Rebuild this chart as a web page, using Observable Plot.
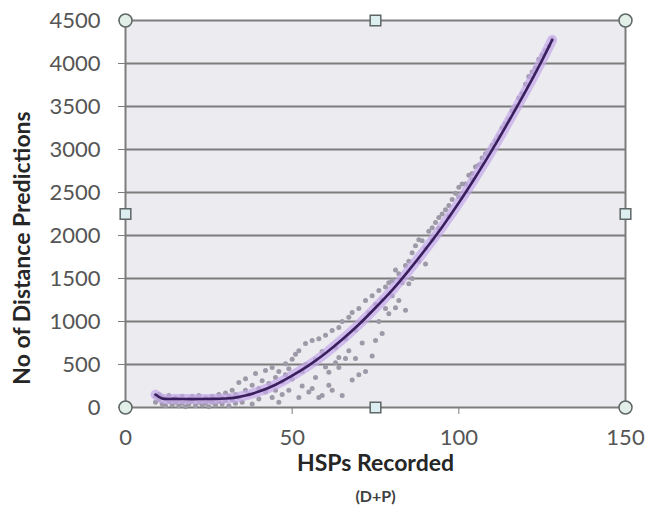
<!DOCTYPE html>
<html><head><meta charset="utf-8">
<script src="https://cdn.jsdelivr.net/npm/d3@7"></script>
<script src="https://cdn.jsdelivr.net/npm/@observablehq/plot@0.6"></script>
<style>body{margin:0;background:#fff;}</style>
</head><body><div id="chart"></div>
<script>
const xTicks = [0, 50, 100, 150];
const yTicks = [0, 500, 1000, 1500, 2000, 2500, 3000, 3500, 4000, 4500];
const xTitle = ["HSPs Recorded"];
const xSubTitle = ["(D+P)"];
const yTitle = ["No of Distance Predictions"];

// scatter: HSPs recorded vs no. of distance predictions
const hspX = [9,9,10,10,11,11,12,12,13,13,14,14,15,15,16,16,17,17,18,18,19,19,20,20,21,21,22,22,23,23,24,24,25,25,26,26,27,27,28,28,29,29,30,30,31,31,32,32,33,33,
34,34,35,36,36,37,38,38,39,40,40,41,42,42,43,44,44,45,45,46,46,47,47,48,48,49,49,50,50,
51,52,52,53,53,54,54,55,56,56,57,57,58,58,59,59,60,60,61,61,62,62,63,63,64,64,64,65,65,66,66,67,67,68,68,69,69,70,70,71,71,72,72,73,74,74,75,75,76,76,77,77,78,78,79,79,80,80,81,81,82,82,83,84,84,85,85,
86,86,87,88,88,89,90,90,91,92,92,93,94,94,95,96,97,97,98,99,100,100,101,102,103,104,104,105,106,107,107,108,109,110,111,112,113,114,115,116,117,118,119,120,121,122,123,124,125,126,127,128];
const predY = [130,60,150,90,40,120,100,20,70,140,90,30,110,60,20,90,130,50,80,10,100,40,70,130,20,100,60,140,90,30,110,50,80,10,130,60,100,30,150,70,40,110,170,80,130,20,200,90,150,50,
290,120,60,335,200,150,260,40,395,220,100,310,430,180,280,465,115,350,200,420,60,300,150,510,380,200,450,330,560,
620,660,115,420,250,745,500,180,780,220,560,350,800,115,140,650,840,470,410,260,895,200,700,520,930,465,580,140,1000,570,800,1050,660,320,1105,570,900,1150,380,750,1000,1245,420,1100,1300,600,780,1200,1360,1000,860,1250,1400,1150,1090,1450,1475,1300,1160,1600,1555,1245,1450,1650,1130,1700,1440,
1800,1500,1880,1700,1950,1940,1850,1670,2050,2090,1950,2150,2210,2080,2250,2300,2350,2220,2420,2490,2450,2560,2600,2600,2700,2720,2650,2800,2820,2830,2900,2950,2990,3050,3100,3150,3250,3300,3350,3450,3500,3600,3650,3760,3850,3900,3950,4050,4100,4150,4200,4280];

// trend line
const trendX = [9, 11, 14, 18, 22, 26, 30, 33, 36, 40, 45, 50, 55, 60, 65, 70, 75, 80, 85, 90, 95, 100, 105, 110, 115, 120, 125, 128];
const trendY = [150, 105, 100, 98, 98, 100, 105, 115, 140, 185, 265, 370, 490, 630, 790, 965, 1160, 1365, 1595, 1840, 2100, 2380, 2680, 2995, 3330, 3675, 4040, 4275];

// selection handles of the chart area
const handleX = [0, 150, 0, 150, 75, 0, 150, 75];
const handleY = [4500, 4500, 0, 0, 4500, 2250, 2250, 0];
const handleShape = ["circle","circle","circle","circle","square","square","square","square"];

const points = hspX.map((x, i) => ({x, y: predY[i]}));
const trend = trendX.map((x, i) => ({x, y: trendY[i]}));
const handles = handleX.map((x, i) => ({x, y: handleY[i], s: handleShape[i]}));

const grey = "#7c7c7c";
const chart = Plot.plot({
  width: 645, height: 511,
  marginLeft: 125, marginRight: 20, marginTop: 20, marginBottom: 104,
  style: {fontFamily: "Lato, 'Open Sans', sans-serif", background: "#fff"},
  x: {domain: [0, 150]},
  y: {domain: [0, 4500]},
  marks: [
    Plot.frame({fill: "#ECEBF0", stroke: "none"}),
    Plot.gridY(yTicks, {stroke: grey, strokeOpacity: 1, strokeWidth: 2}),
    Plot.ruleX([0, 150], {stroke: grey, strokeWidth: 2}),
    Plot.axisY(yTicks, {tickSize: 7, tickPadding: 18, fontSize: 22, tickFormat: d3.format("d"), stroke: grey, fill: "#555555", label: null}),
    Plot.axisX(xTicks, {tickSize: 7, tickPadding: 15, fontSize: 22, tickFormat: d3.format("d"), stroke: grey, fill: "#555555", label: null}),
    Plot.dot(points, {x: "x", y: "y", r: 2.5, fill: "#9d99a6", stroke: "none"}),
    Plot.line(trend, {x: "x", y: "y", curve: "natural", stroke: "#c3a8ea", strokeWidth: 10, strokeOpacity: 0.7}),
    Plot.line(trend, {x: "x", y: "y", curve: "natural", stroke: "#3a1f5f", strokeWidth: 2.6}),
    Plot.dot(handles.filter(d => d.s === "circle"), {x: "x", y: "y", symbol: "circle", r: 6.5, fill: "#e2eee8", stroke: "#5e6666", strokeWidth: 1.5}),
    Plot.dot(handles.filter(d => d.s === "square"), {x: "x", y: "y", symbol: "square", r: 6, fill: "#ddeef0", stroke: "#5e6666", strokeWidth: 1.5}),
    Plot.text(yTitle, {frameAnchor: "left", textAnchor: "middle", dx: -103, dy: 34, rotate: -90, fontSize: 23, fontWeight: "bold", fill: "#262626"}),
    Plot.text(xTitle, {frameAnchor: "bottom", dy: 63, fontSize: 23, fontWeight: "bold", fill: "#262626"}),
    Plot.text(xSubTitle, {frameAnchor: "bottom", dy: 94, fontSize: 16, fontWeight: "bold", fill: "#404040"})
  ]
});
document.getElementById("chart").append(chart);
</script>
</body></html>
